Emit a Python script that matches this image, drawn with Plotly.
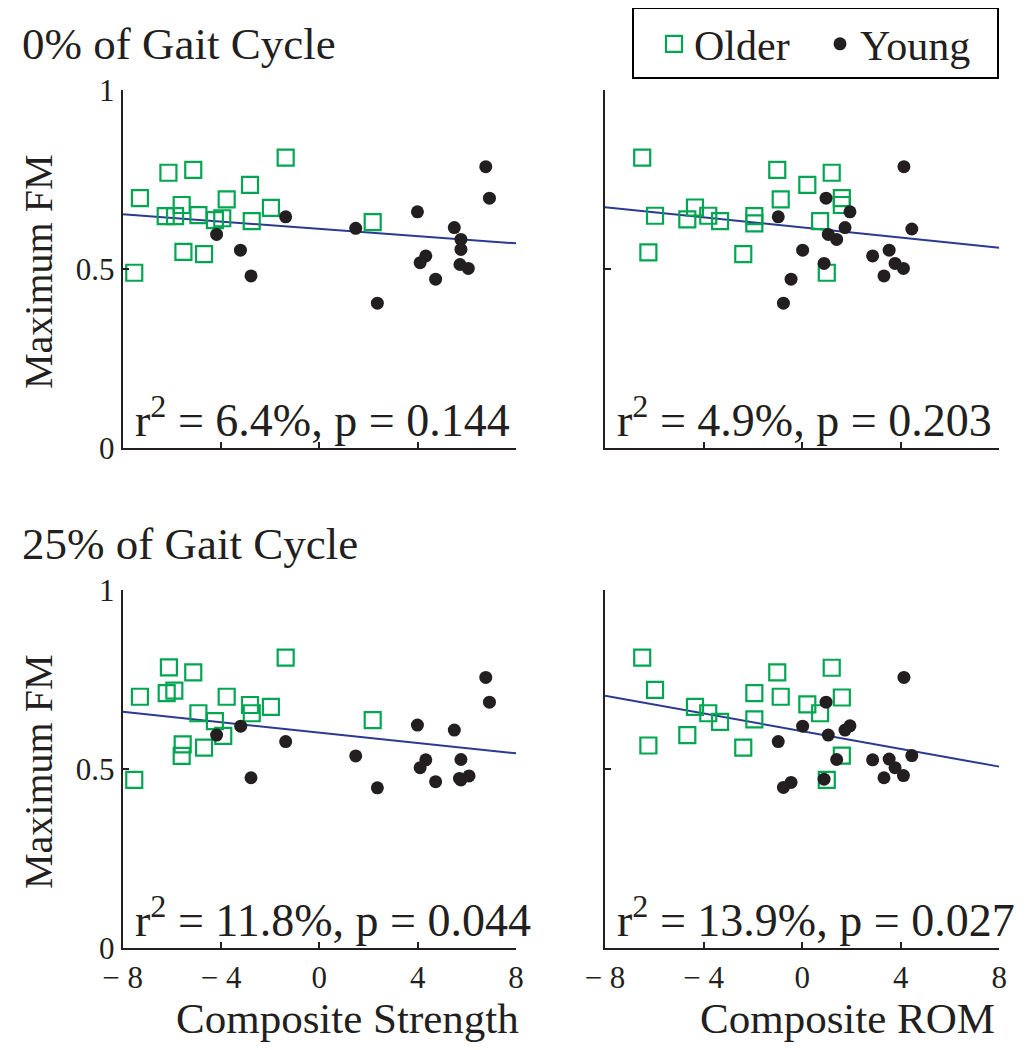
import plotly.graph_objects as go

# ---- data ----
line_x = [-8, 8]

# 0% of gait cycle, vs composite strength
s0_older_x = [-7.53, -7.30, -6.14, -5.13, -6.25, -5.87, -5.60, -4.92, -4.25, -3.95, -3.77, -2.82, -2.75, -1.97, -1.37, -5.53, -4.69, 2.17]
s0_older_y = [0.490, 0.698, 0.769, 0.777, 0.648, 0.648, 0.679, 0.651, 0.637, 0.642, 0.695, 0.735, 0.634, 0.671, 0.811, 0.548, 0.542, 0.631]
s0_young_x = [-4.18, -3.21, -2.78, -1.37, 1.48, 2.36, 3.99, 4.10, 4.33, 4.73, 5.49, 5.76, 5.76, 5.72, 6.06, 6.77, 6.92]
s0_young_y = [0.597, 0.553, 0.481, 0.646, 0.614, 0.405, 0.660, 0.518, 0.537, 0.472, 0.616, 0.583, 0.555, 0.513, 0.502, 0.786, 0.698]
s0_fit = [0.653, 0.572]

# 0% of gait cycle, vs composite ROM
r0_older_x = [-6.49, -5.97, -6.24, -4.35, -4.66, -3.81, -3.33, -1.94, -1.94, -2.39, -1.01, -0.87, 0.21, 1.20, 0.73, 1.61, 1.61, 1.00]
r0_older_y = [0.811, 0.649, 0.547, 0.672, 0.639, 0.649, 0.634, 0.648, 0.628, 0.542, 0.777, 0.695, 0.735, 0.769, 0.634, 0.698, 0.679, 0.490]
r0_young_x = [-0.97, -0.76, -0.45, 0.02, 0.97, 0.89, 1.06, 1.40, 1.74, 1.94, 2.86, 3.32, 3.53, 3.77, 4.11, 4.13, 4.45]
r0_young_y = [0.646, 0.405, 0.472, 0.553, 0.698, 0.516, 0.597, 0.583, 0.616, 0.660, 0.537, 0.481, 0.553, 0.516, 0.502, 0.786, 0.612]
r0_fit = [0.673, 0.560]

# 25% of gait cycle, vs composite strength
s25_older_x = [-7.53, -7.30, -6.12, -5.13, -6.21, -5.90, -3.77, -2.82, -2.75, -1.97, -1.37, -4.92, -4.25, -3.91, -5.56, -5.60, -4.69, 2.17]
s25_older_y = [0.470, 0.702, 0.784, 0.770, 0.712, 0.719, 0.702, 0.679, 0.656, 0.674, 0.811, 0.656, 0.634, 0.593, 0.569, 0.537, 0.560, 0.637]
s25_young_x = [-4.18, -3.20, -2.78, -1.37, 1.48, 2.36, 3.99, 4.10, 4.33, 4.73, 5.49, 5.76, 5.76, 5.70, 6.09, 6.77, 6.92]
s25_young_y = [0.595, 0.620, 0.476, 0.577, 0.537, 0.448, 0.623, 0.504, 0.526, 0.465, 0.609, 0.527, 0.470, 0.474, 0.481, 0.756, 0.687]
s25_fit = [0.660, 0.544]

# 25% of gait cycle, vs composite ROM
r25_older_x = [-6.49, -5.97, -6.24, -4.35, -4.66, -3.81, -3.33, -1.94, -1.94, -2.39, -1.01, -0.87, 0.21, 1.20, 0.73, 1.61, 1.61, 1.00]
r25_older_y = [0.811, 0.721, 0.566, 0.674, 0.595, 0.656, 0.632, 0.712, 0.639, 0.560, 0.770, 0.702, 0.681, 0.783, 0.656, 0.700, 0.538, 0.470]
r25_young_x = [-0.97, -0.76, -0.45, 0.02, 0.97, 0.89, 1.06, 1.40, 1.74, 1.94, 2.86, 3.32, 3.53, 3.77, 4.11, 4.13, 4.45]
r25_young_y = [0.577, 0.449, 0.463, 0.620, 0.687, 0.472, 0.595, 0.527, 0.609, 0.621, 0.526, 0.476, 0.528, 0.504, 0.482, 0.756, 0.538]
r25_fit = [0.705, 0.507]

stats_text = ["r<sup>2</sup> = 6.4%, p = 0.144", "r<sup>2</sup> = 4.9%, p = 0.203",
              "r<sup>2</sup> = 11.8%, p = 0.044", "r<sup>2</sup> = 13.9%, p = 0.027"]
row_titles = ["0% of Gait Cycle", "25% of Gait Cycle"]
x_titles = ["Composite Strength", "Composite ROM"]
x_tickvals = [-8, -4, 0, 4, 8]
x_ticktext = ["\u2212 8", "\u2212 4", "0", "4", "8"]
y_tickvals = [0, 0.5, 1]
y_ticktext = ["0", "0.5", "1"]

GREEN = "#00A651"
DARK = "#231F20"
BLUE = "#2B3990"
FONT = "Liberation Serif"

W, H = 1027, 1050
OFF = 8  # page body margin shifts the figure


def px_x(p):
    return (p - OFF) / W


def px_y(p):
    return 1 - (p - OFF) / H


panels = [
    (s0_older_x, s0_older_y, s0_young_x, s0_young_y, s0_fit),
    (r0_older_x, r0_older_y, r0_young_x, r0_young_y, r0_fit),
    (s25_older_x, s25_older_y, s25_young_x, s25_young_y, s25_fit),
    (r25_older_x, r25_older_y, r25_young_x, r25_young_y, r25_fit),
]
# pixel extents of the plot areas
x_px = [(122.7, 516.0), (605.0, 999.3)]
y_px = [(90.0, 448.3), (590.0, 948.3)]

fig = go.Figure()
for i, (ox, oy, yx, yy, fit) in enumerate(panels):
    n = "" if i == 0 else str(i + 1)
    xa, ya = "x" + n, "y" + n
    fig.add_trace(go.Scatter(x=line_x, y=fit, mode="lines", xaxis=xa, yaxis=ya,
                             line=dict(color=BLUE, width=2), showlegend=False))
    fig.add_trace(go.Scatter(x=ox, y=oy, mode="markers", xaxis=xa, yaxis=ya, name="Older",
                             marker=dict(symbol="square-open", size=16, color=GREEN, line=dict(width=2.2)),
                             showlegend=(i == 0)))
    fig.add_trace(go.Scatter(x=yx, y=yy, mode="markers", xaxis=xa, yaxis=ya, name="Young",
                             marker=dict(symbol="circle", size=13, color=DARK),
                             showlegend=(i == 0)))

axis_common = dict(showline=True, linecolor=DARK, linewidth=2, ticks="inside", ticklen=6,
                   tickwidth=1.5, tickcolor=DARK, showgrid=False, zeroline=False,
                   automargin=False,
                   tickfont=dict(family=FONT, size=31, color=DARK))
layout = {}
for i in range(4):
    r, c = divmod(i, 2)
    n = "" if i == 0 else str(i + 1)
    x0, x1 = x_px[c]
    y0, y1 = y_px[r]
    layout["xaxis" + n] = dict(axis_common, domain=[px_x(x0), px_x(x1)], range=[-8, 8],
                               anchor="y" + n, tickvals=x_tickvals, ticktext=x_ticktext,
                               showticklabels=(r == 1))
    layout["yaxis" + n] = dict(axis_common, domain=[px_y(y1), px_y(y0)], range=[0, 1],
                               anchor="x" + n, tickvals=y_tickvals, ticktext=y_ticktext,
                               showticklabels=(c == 0))

annotations = []
for i in range(4):
    n = "" if i == 0 else str(i + 1)
    annotations.append(dict(text=stats_text[i], xref="x" + n, yref="y" + n, x=-7.6, y=0.0,
                            xanchor="left", yanchor="bottom", showarrow=False,
                            font=dict(family=FONT, size=46, color=DARK)))
for r in range(2):
    annotations.append(dict(text=row_titles[r], xref="paper", yref="paper", x=px_x(20),
                            y=px_y(44 + 500 * r), xanchor="left", yanchor="middle",
                            showarrow=False, font=dict(family=FONT, size=45, color=DARK)))
    annotations.append(dict(text="Maximum FM", xref="paper", yref="paper", x=px_x(38),
                            y=px_y(272 + 500 * r), textangle=-90, xanchor="center",
                            yanchor="middle", showarrow=False,
                            font=dict(family=FONT, size=40, color=DARK)))
for c, cx in enumerate([347, 847]):
    annotations.append(dict(text=x_titles[c], xref="paper", yref="paper",
                            x=px_x(cx), y=px_y(1018),
                            xanchor="center", yanchor="middle", showarrow=False,
                            font=dict(family=FONT, size=43, color=DARK)))

fig.update_layout(
    width=W, height=H,
    margin=dict(l=0, r=0, t=0, b=0, autoexpand=False),
    paper_bgcolor="white", plot_bgcolor="white",
    annotations=annotations,
    shapes=[dict(type="rect", xref="paper", yref="paper", x0=px_x(633), x1=px_x(998),
                 y0=px_y(78), y1=px_y(8), line=dict(color="black", width=2))],
    legend=dict(orientation="h", x=px_x(654), y=px_y(10), xanchor="left", yanchor="top",
                borderwidth=0, bgcolor="rgba(0,0,0,0)",
                entrywidth=121, entrywidthmode="pixels",
                font=dict(family=FONT, size=42, color=DARK)),
    **layout,
)

fig.write_html("out.html")
